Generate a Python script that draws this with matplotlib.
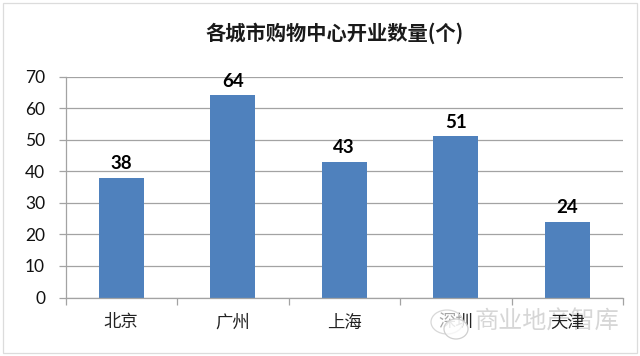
import matplotlib
matplotlib.use('Agg')
import matplotlib.pyplot as plt
from matplotlib.patches import Ellipse, Rectangle

CJK = ['Noto Sans CJK SC', 'DejaVu Sans']
plt.rcParams['font.family'] = CJK

categories = ['北京', '广州', '上海', '深圳', '天津']
values = [38, 64, 43, 51, 24]
yticks = [0, 10, 20, 30, 40, 50, 60, 70]
title = '各城市购物中心开业数量(个)'
watermark = '商业地产智库'

W, H = 640, 356
LINE = '#a3a3a3'
fig = plt.figure(figsize=(W/100, H/100), dpi=100, facecolor='white')
ax = fig.add_axes([65.5/W, 1-297.5/H, (623-65.5)/W, (297.5-76.5)/H])
ax.patch.set_visible(False)
x = list(range(len(categories)))
ax.bar(x, values, width=0.4, color='#4F81BD', zorder=2)
ax.set_xlim(-0.5, 4.5)
ax.set_ylim(0, 70)
ax.set_yticks(yticks)
ax.set_xticks(x)
ax.set_xticklabels(categories, fontsize=12.5, color='#222222')
ax.set_xticks([i - 0.5 for i in range(len(categories) + 1)], minor=True)
ax.tick_params(axis='y', labelsize=12.5, length=4.7, width=0.9, color=LINE,
               labelcolor='#111111', pad=10, labelfontfamily='Lato')
ax.tick_params(axis='x', which='major', length=0, pad=11.5)
ax.tick_params(axis='x', which='minor', length=4.7, width=0.9, color=LINE)
ax.grid(axis='y', color=LINE, lw=0.9)
ax.set_axisbelow(True)
for s in ['top', 'right']:
    ax.spines[s].set_visible(False)
for s in ['left', 'bottom']:
    ax.spines[s].set_color(LINE)
    ax.spines[s].set_linewidth(0.9)
for xi, v in zip(x, values):
    ax.annotate(str(v), (xi, v), xytext=(0, 4), textcoords='offset points',
                ha='center', va='bottom', fontsize=13.5, fontweight='bold',
                family='Lato', color='black')
fig.text(335/W, 1-33/H, title, ha='center', va='center', fontsize=14.6,
         fontweight='bold', color='#1a1a1a', family=CJK)
fig.add_artist(Rectangle((3/W, 3/H), (W-6)/W, (H-6)/H, fill=False, ec='#dcdcdc',
                         lw=0.9, transform=fig.transFigure))
# watermark sits behind the axes so the category labels stay readable on top of it
fig.text(546.5/W, 1-322/H, watermark, ha='center', va='center', fontsize=17.4,
         color='#d6d6d6', family=CJK, zorder=-1)
fig.add_artist(Ellipse((447/W, 1-322/H), 32/W, 24/H, fc=(1, 1, 1, 0.6), ec='#d8d8d8', lw=0.9,
                       transform=fig.transFigure, zorder=6))
fig.add_artist(Ellipse((456/W, 1-329/H), 24/W, 20/H, fc=(1, 1, 1, 0.75), ec='#cfcfcf', lw=0.9,
                       transform=fig.transFigure, zorder=7))
fig.savefig('out.png', dpi=100)
